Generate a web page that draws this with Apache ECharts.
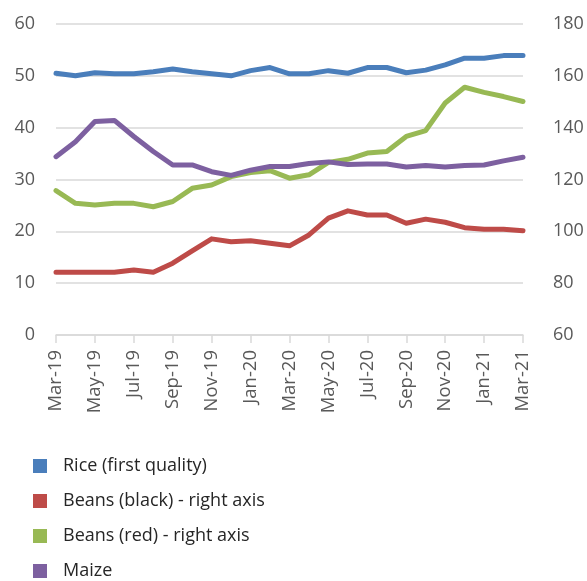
<!DOCTYPE html>
<html>
<head>
<meta charset="utf-8">
<script src="https://cdn.jsdelivr.net/npm/echarts@6/dist/echarts.min.js"></script>
<style>
  html, body { margin: 0; padding: 0; background: #fff; }
  #chart { width: 587px; height: 581px; }
</style>
</head>
<body>
<div id="chart"></div>
<script>
// months Mar-19 .. Mar-21
var months = ['Mar-19','Apr-19','May-19','Jun-19','Jul-19','Aug-19','Sep-19','Oct-19','Nov-19','Dec-19',
  'Jan-20','Feb-20','Mar-20','Apr-20','May-20','Jun-20','Jul-20','Aug-20','Sep-20','Oct-20',
  'Nov-20','Dec-20','Jan-21','Feb-21','Mar-21'];

// left axis
var rice = [50.5, 50.0, 50.6, 50.4, 50.4, 50.8, 51.3, 50.8, 50.4, 50.0,
  51.0, 51.6, 50.4, 50.4, 51.0, 50.5, 51.6, 51.6, 50.6, 51.1,
  52.1, 53.4, 53.4, 53.9, 53.9];
var maize = [34.4, 37.3, 41.2, 41.4, 38.3, 35.4, 32.8, 32.8, 31.5, 30.8,
  31.8, 32.5, 32.5, 33.1, 33.4, 32.9, 33.0, 33.0, 32.4, 32.7,
  32.4, 32.7, 32.8, 33.6, 34.3];

// right axis
var beansBlack = [84.2, 84.2, 84.2, 84.2, 85.1, 84.2, 87.7, 92.5, 97.1, 96.0,
  96.4, 95.4, 94.4, 98.6, 105.1, 107.9, 106.3, 106.3, 103.1, 104.7,
  103.5, 101.4, 100.8, 100.8, 100.2];
var beansRed = [115.7, 110.8, 110.2, 110.8, 110.8, 109.5, 111.5, 116.6, 117.9, 121.1,
  122.7, 123.4, 120.5, 121.8, 126.6, 127.8, 130.2, 130.8, 136.6, 138.9,
  149.5, 155.6, 153.6, 152.0, 150.1];

var names = ['Rice (first quality)', 'Beans (black) - right axis', 'Beans (red) - right axis', 'Maize'];
var colors = ['#4a7ebb', '#be4b48', '#98b954', '#7d60a0'];

var font = 'Open Sans, Noto Sans, sans-serif';
var chart = echarts.init(document.getElementById('chart'));

function line(name, data, axis, color) {
  return {
    name: name,
    type: 'line',
    yAxisIndex: axis,
    data: data,
    symbol: 'none',
    color: color,
    lineStyle: { width: 5, color: color, cap: 'round', join: 'round' },
    animation: false
  };
}

chart.setOption({
  animation: false,
  grid: { left: 56, right: 64, top: 24, bottom: 246 },
  legend: {
    orient: 'vertical',
    left: 33,
    top: 456,
    padding: 0,
    itemWidth: 14,
    itemHeight: 14,
    itemGap: 15,
    icon: 'rect',
    data: names,
    textStyle: { fontFamily: font, fontSize: 18, color: '#262626', lineHeight: 20, padding: [0, 0, 0, 11] }
  },
  xAxis: {
    type: 'category',
    data: months,
    boundaryGap: false,
    axisLine: { lineStyle: { color: '#d9d9d9', width: 1.5 } },
    axisTick: { show: true, interval: 1, length: 8, lineStyle: { color: '#d9d9d9', width: 1.5 } },
    axisLabel: { interval: 1, rotate: 90, margin: 15, fontFamily: font, fontSize: 18.5, color: '#595959' },
    splitLine: { show: false }
  },
  yAxis: [
    {
      type: 'value', min: 0, max: 60, interval: 10,
      axisLine: { show: false }, axisTick: { show: false },
      axisLabel: { margin: 21, fontFamily: font, fontSize: 18, color: '#595959' },
      splitLine: { lineStyle: { color: '#d9d9d9', width: 1.5 } }
    },
    {
      type: 'value', min: 60, max: 180, interval: 20,
      axisLine: { show: false }, axisTick: { show: false },
      axisLabel: { margin: 30, fontFamily: font, fontSize: 18, color: '#595959' },
      splitLine: { show: false }
    }
  ],
  series: [
    line(names[0], rice, 0, colors[0]),
    line(names[1], beansBlack, 1, colors[1]),
    line(names[2], beansRed, 1, colors[2]),
    line(names[3], maize, 0, colors[3])
  ]
});
</script>
</body>
</html>
